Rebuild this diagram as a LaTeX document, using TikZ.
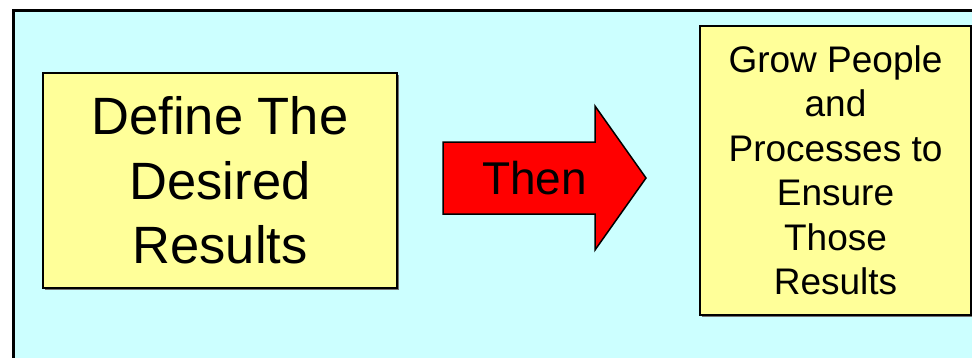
\documentclass[tikz,border=0pt]{standalone}
\usepackage{fontspec}
\setmainfont{Liberation Sans}
\usetikzlibrary{shadows}
\definecolor{bgcyan}{HTML}{CCFFFF}
\definecolor{boxyellow}{HTML}{FFFF99}
\definecolor{arrowred}{HTML}{FF0000}
\begin{document}
\begin{tikzpicture}[x=1pt,y=1pt,
  box/.style={draw=black, line width=2pt, fill=boxyellow, align=center, inner sep=0pt,
    drop shadow={shadow xshift=1.5pt, shadow yshift=-1.5pt, fill=black!55, opacity=1}},
]
\useasboundingbox (0,0) rectangle (972,357);
\clip (0,0) rectangle (972,357);
\fill[white] (0,0) rectangle (972,357);
% outer frame
\draw[line width=3pt, fill=bgcyan] (13.5,346.5) rectangle (985,-10);
% left box
\node[box, minimum width=354pt, minimum height=215pt,
  font=\fontsize{52.5}{64.5}\selectfont] (define) at (220,176.5)
  {Define The\\Desired\\Results};
% right box
\node[box, minimum width=271pt, minimum height=289pt,
  font=\fontsize{37}{44.5}\selectfont] (grow) at (835.5,186.5)
  {Grow People\\and\\Processes to\\Ensure\\Those\\Results};
% block arrow
\coordinate (a1) at (443,215);
\coordinate (a2) at (595,215);
\coordinate (a3) at (595,251);
\coordinate (tip) at (646,179);
\coordinate (a5) at (595,107);
\coordinate (a6) at (595,143);
\coordinate (a7) at (443,143);
\draw[line width=1.5pt, line join=miter, fill=arrowred]
  (a1) -- (a2) -- (a3) -- (tip) -- (a5) -- (a6) -- (a7) -- cycle;
\node[font=\fontsize{46}{55}\selectfont, inner sep=0pt] (then) at (534.5,179) {Then};
\end{tikzpicture}
\end{document}
